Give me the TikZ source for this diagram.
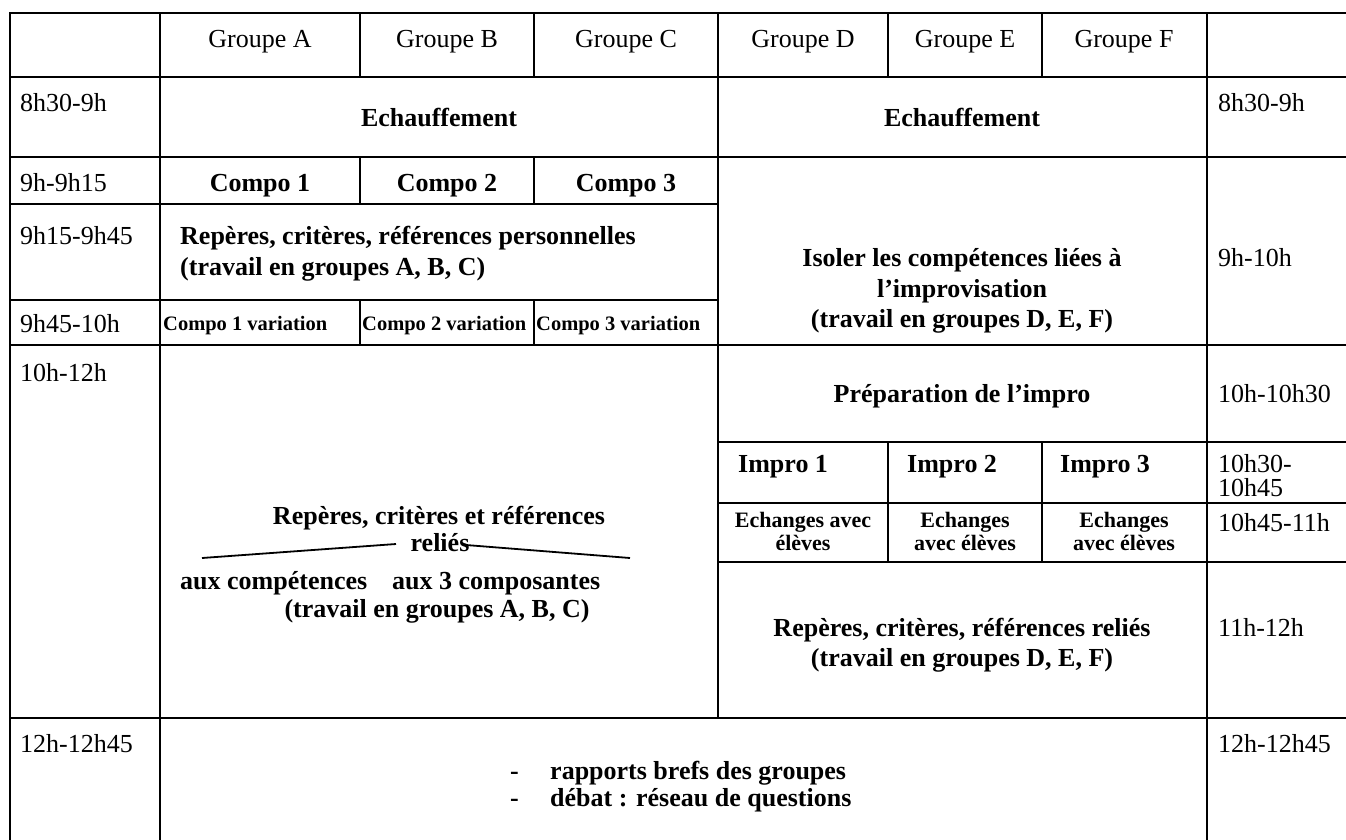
\documentclass[tikz,border=0pt]{standalone}
\usepackage{fontspec}
\setmainfont{Liberation Serif}
\begin{document}
\begin{tikzpicture}[x=1pt,y=-1pt,
  rule/.style={line width=2.6pt, line cap=rect},
  reg/.style={font=\fontsize{26}{30}\selectfont, inner sep=0pt, anchor=base},
  lt/.style={reg, anchor=base west},
  bld/.style={font=\fontsize{26}{30}\selectfont\bfseries, inner sep=0pt, anchor=base},
  bldw/.style={bld, anchor=base west},
  sml/.style={font=\fontsize{20.5}{23}\selectfont\bfseries, inner sep=0pt, anchor=base west},
  ech/.style={font=\fontsize{22}{23}\selectfont\bfseries, inner sep=0pt, anchor=base},
  diag/.style={line width=1.8pt}]
\useasboundingbox (0,0) rectangle (1346,839);
\clip (0,0) rectangle (1346,839);
\fill[white] (0,0) rectangle (1346,839);

% horizontal rules
\draw[rule] (10,13) -- (1360,13);
\draw[rule] (10,77) -- (1360,77);
\draw[rule] (10,157) -- (1360,157);
\draw[rule] (10,204) -- (718,204);
\draw[rule] (10,300) -- (718,300);
\draw[rule] (10,345) -- (1360,345);
\draw[rule] (718,442) -- (1360,442);
\draw[rule] (718,503) -- (1360,503);
\draw[rule] (718,562) -- (1360,562);
\draw[rule] (10,718) -- (1360,718);
% vertical rules
\draw[rule] (10,13) -- (10,860);
\draw[rule] (160,13) -- (160,860);
\draw[rule] (360,13) -- (360,77) (360,157) -- (360,204) (360,300) -- (360,345);
\draw[rule] (534,13) -- (534,77) (534,157) -- (534,204) (534,300) -- (534,345);
\draw[rule] (718,13) -- (718,718);
\draw[rule] (888,13) -- (888,77) (888,442) -- (888,562);
\draw[rule] (1042,13) -- (1042,77) (1042,442) -- (1042,562);
\draw[rule] (1207,13) -- (1207,860);

% header
\node[reg] (ga) at (260,47) {Groupe A};
\node[reg] (gb) at (447,47) {Groupe B};
\node[reg] (gc) at (626,47) {Groupe C};
\node[reg] (gd) at (803,47) {Groupe D};
\node[reg] (ge) at (965,47) {Groupe E};
\node[reg] (gf) at (1124,47) {Groupe F};

% left times
\node[lt] (t1) at (20,111) {8h30-9h};
\node[lt] (t2) at (20,191) {9h-9h15};
\node[lt] (t3) at (20,244) {9h15-9h45};
\node[lt] (t4) at (20,332) {9h45-10h};
\node[lt] (t5) at (20,381) {10h-12h};
\node[lt] (t6) at (20,752) {12h-12h45};
% right times
\node[lt] (r1) at (1218,111) {8h30-9h};
\node[lt] (r2) at (1218,266) {9h-10h};
\node[lt] (r3) at (1218,402) {10h-10h30};
\node[lt] (r4) at (1218,472) {10h30-};
\node[lt] (r4b) at (1218,496) {10h45};
\node[lt] (r5) at (1218,531) {10h45-11h};
\node[lt] (r6) at (1218,636) {11h-12h};
\node[lt] (r7) at (1218,752) {12h-12h45};

% left block
\node[bld] (echl) at (439,126) {Echauffement};
\node[bld] (c1) at (260,191) {Compo 1};
\node[bld] (c2) at (447,191) {Compo 2};
\node[bld] (c3) at (626,191) {Compo 3};
\node[bldw] (rp1) at (180,244) {Repères, critères, références personnelles};
\node[bldw] (rp2) at (180,275) {(travail en groupes A, B, C)};
\node[sml] (v1) at (163,330) {Compo 1 variation};
\node[sml] (v2) at (362,330) {Compo 2 variation};
\node[sml] (v3) at (536,330) {Compo 3 variation};

\node[bld] (rc1) at (439,524) {Repères, critères et références};
\node[bld] (rc2) at (440,551) {reliés};
\node[bldw] (auxc) at (180,589) {aux compétences};
\node[bldw] (aux3) at (392,589) {aux 3 composantes};
\node[bld] (rc3) at (437,617) {(travail en groupes A, B, C)};
\coordinate (dla) at (202,558);
\coordinate (dlb) at (396,544);
\coordinate (dra) at (466,545);
\coordinate (drb) at (630,558);
\draw[diag] (dla) -- (dlb);
\draw[diag] (dra) -- (drb);

% right block
\node[bld] (echr) at (962,126) {Echauffement};
\node[bld] (is1) at (962,266) {Isoler les compétences liées à};
\node[bld] (is2) at (962,297) {l’improvisation};
\node[bld] (is3) at (962,327) {(travail en groupes D, E, F)};
\node[bld] (prep) at (962,402) {Préparation de l’impro};
\node[bldw] (i1) at (738,472) {Impro 1};
\node[bldw] (i2) at (907,472) {Impro 2};
\node[bldw] (i3) at (1060,472) {Impro 3};
\node[ech] (e1a) at (803,527) {Echanges avec};
\node[ech] (e1b) at (803,550) {élèves};
\node[ech] (e2a) at (965,527) {Echanges};
\node[ech] (e2b) at (965,550) {avec élèves};
\node[ech] (e3a) at (1124,527) {Echanges};
\node[ech] (e3b) at (1124,550) {avec élèves};
\node[bld] (rr1) at (962,636) {Repères, critères, références reliés};
\node[bld] (rr2) at (962,666) {(travail en groupes D, E, F)};

% bottom row
\node[bldw] (d1) at (510,779) {-};
\node[bldw] (b1) at (550,779) {rapports brefs des groupes};
\node[bldw] (d2) at (510,806) {-};
\node[bldw] (b2) at (550,806) {débat : réseau de questions};
\end{tikzpicture}
\end{document}
